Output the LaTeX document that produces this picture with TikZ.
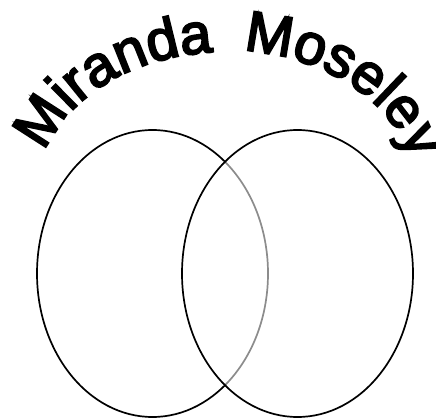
\documentclass[tikz,border=0pt]{standalone}
\usepackage{fontspec}
\setmainfont{Liberation Sans}
\newfontface\titlefont{Liberation Sans}[FakeBold=3.5]
\usetikzlibrary{decorations.text}
\tikzset{
  vennline/.style={line width=1.7pt, black},
  innerline/.style={line width=1.7pt, black!45}
}
\begin{document}
\begin{tikzpicture}[x=1pt,y=1pt]
\useasboundingbox (0,0) rectangle (436,418);
% title along an elliptic arch
\coordinate (c) at (225,228);
\path[decorate, decoration={text along path, text align=left,
  text={|\titlefont\fontsize{57}{66}\selectfont|Miranda}}]
  ([shift={(164:187 and 138)}]c) arc[start angle=164, end angle=92, x radius=187, y radius=138];
\path[decorate, decoration={text along path, text align=left,
  text={|\titlefont\fontsize{57}{66}\selectfont|Moseley}}]
  ([shift={(84.5:190 and 140)}]c) arc[start angle=84.5, end angle=0, x radius=190, y radius=140];
% left ellipse: part outside right ellipse black, part inside gray
\begin{scope}
  \clip (0,0) rectangle (225,418);
  \draw[vennline] (152.5,144.5) ellipse [x radius=115.5, y radius=143.5];
\end{scope}
\begin{scope}
  \clip (225,0) rectangle (436,418);
  \draw[innerline] (152.5,144.5) ellipse [x radius=115.5, y radius=143.5];
\end{scope}
% right ellipse
\draw[vennline] (297.5,144.5) ellipse [x radius=115.5, y radius=143.5];
\end{tikzpicture}
\end{document}
